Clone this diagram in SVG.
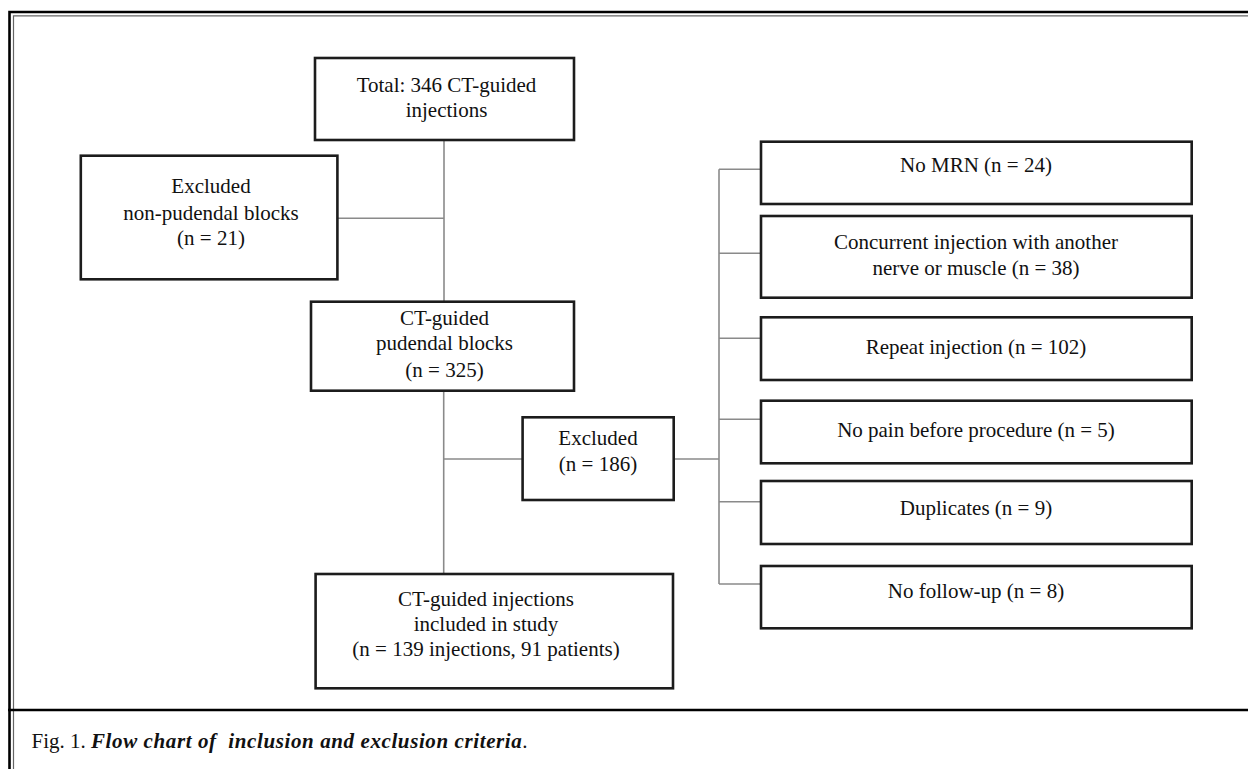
<svg xmlns="http://www.w3.org/2000/svg" width="1248" height="769" viewBox="0 0 1248 769">
<style>
.bg{fill:#ffffff}
.box{fill:#ffffff;stroke:#1c1c1c;stroke-width:2.6}
.t{font-family:"Liberation Serif","Times New Roman",serif;font-size:21px;fill:#111;text-anchor:middle}
.cap{font-family:"Liberation Serif","Times New Roman",serif;font-size:21px;fill:#111}
.conn{fill:none;stroke:#8a8a8a;stroke-width:1.6}
</style>
<rect class="bg" x="0" y="0" width="1248" height="769"/>
<g id="frame">
<path d="M9.5 769 V12 H1248" fill="none" stroke="#000" stroke-width="2.6"/>
<path d="M13.5 769 V15.8 H1248" fill="none" stroke="#666" stroke-width="1.2"/>
<line x1="8" y1="710" x2="1248" y2="710" stroke="#000" stroke-width="2.6"/>
</g>
<g id="connectors">
<line class="conn" x1="444" y1="140" x2="444" y2="301.7"/>
<line class="conn" x1="337.4" y1="218.3" x2="444" y2="218.3"/>
<line class="conn" x1="443.7" y1="390.7" x2="443.7" y2="574"/>
<line class="conn" x1="443.7" y1="459" x2="522.6" y2="459"/>
<line class="conn" x1="673.7" y1="459" x2="719" y2="459"/>
<line class="conn" x1="719" y1="169.3" x2="719" y2="584"/>
<line class="conn" x1="719" y1="169.3" x2="761" y2="169.3"/>
<line class="conn" x1="719" y1="253.3" x2="761" y2="253.3"/>
<line class="conn" x1="719" y1="338.3" x2="761" y2="338.3"/>
<line class="conn" x1="719" y1="419.3" x2="761" y2="419.3"/>
<line class="conn" x1="719" y1="501.7" x2="761" y2="501.7"/>
<line class="conn" x1="719" y1="584" x2="761" y2="584"/>
</g>
<g id="total">
<rect class="box" x="315" y="58" width="259" height="82"/>
<text class="t" x="446.5" y="91.7">Total: 346 CT-guided</text>
<text class="t" x="446.5" y="116.7">injections</text>
</g>
<g id="excluded-nonpudendal">
<rect class="box" x="80.8" y="155.7" width="256.6" height="123.6"/>
<text class="t" x="211" y="193">Excluded</text>
<text class="t" x="211" y="220">non-pudendal blocks</text>
<text class="t" x="211" y="245">(n = 21)</text>
</g>
<g id="pudendal">
<rect class="box" x="311" y="301.7" width="263" height="89"/>
<text class="t" x="444.5" y="325">CT-guided</text>
<text class="t" x="444.5" y="350">pudendal blocks</text>
<text class="t" x="444.5" y="376.7">(n = 325)</text>
</g>
<g id="excluded-186">
<rect class="box" x="522.6" y="417.3" width="151.1" height="82.7"/>
<text class="t" x="598" y="445">Excluded</text>
<text class="t" x="598" y="470.7">(n = 186)</text>
</g>
<g id="included">
<rect class="box" x="315.6" y="574" width="357.4" height="114.3"/>
<text class="t" x="486" y="606">CT-guided injections</text>
<text class="t" x="486" y="631">included in study</text>
<text class="t" x="486" y="656">(n = 139 injections, 91 patients)</text>
</g>
<g id="no-mrn">
<rect class="box" x="761" y="141.7" width="430.7" height="62.3"/>
<text class="t" x="976" y="171.7">No MRN (n = 24)</text>
</g>
<g id="concurrent">
<rect class="box" x="761" y="216" width="430.7" height="81.7"/>
<text class="t" x="976" y="249.3">Concurrent injection with another</text>
<text class="t" x="976" y="275">nerve or muscle (n = 38)</text>
</g>
<g id="repeat">
<rect class="box" x="761" y="317.3" width="430.7" height="62.7"/>
<text class="t" x="976" y="354">Repeat injection (n = 102)</text>
</g>
<g id="no-pain">
<rect class="box" x="761" y="400.7" width="430.7" height="62.6"/>
<text class="t" x="976" y="436.7">No pain before procedure (n = 5)</text>
</g>
<g id="duplicates">
<rect class="box" x="761" y="481" width="430.7" height="63"/>
<text class="t" x="976" y="515">Duplicates (n = 9)</text>
</g>
<g id="no-followup">
<rect class="box" x="761" y="566" width="430.7" height="62.3"/>
<text class="t" x="976" y="598.3">No follow-up (n = 8)</text>
</g>
<g id="caption">
<text class="cap" x="31.5" y="748.3" xml:space="preserve">Fig. 1. <tspan font-style="italic" font-weight="bold" letter-spacing="0.6">Flow chart of  inclusion and exclusion criteria</tspan>.</text>
</g>
</svg>
